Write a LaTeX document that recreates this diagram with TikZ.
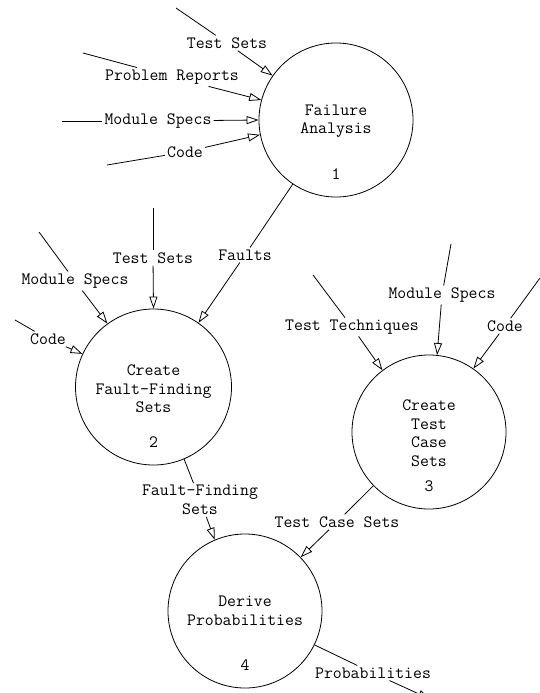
\documentclass[tikz,border=0pt]{standalone}
\usepackage{fontspec}
\usetikzlibrary{arrows.meta}
\begin{document}
\begin{tikzpicture}[x=1pt,y=-1pt,
  font=\ttfamily\fontsize{17.3}{18.5}\selectfont,
  proc/.style={circle,draw,line width=0.8pt,minimum size=154pt,inner sep=0pt},
  flow/.style={line width=0.8pt},
  arr/.style={flow,-{Triangle[open,length=12pt,width=8pt]}},
  lbl/.style={inner sep=2pt,align=center}]
\useasboundingbox[fill=white] (0,0) rectangle (540,693);

% processes
\node[proc] (c1) at (336,120) {};
\node[proc,minimum size=156pt] (c2) at (153.5,387) {};
\node[proc] (c3) at (429,432) {};
\node[proc] (c4) at (245,611) {};

\node[lbl] (t1) at (336,121) {Failure\\Analysis};
\node[lbl] (n1) at (336,174) {1};
\node[lbl] (t2) at (153.5,389) {Create\\Fault-Finding\\Sets};
\node[lbl] (n2) at (153.5,442) {2};
\node[lbl] (t3) at (429,433) {Create\\Test\\Case\\Sets};
\node[lbl] (n3) at (429,486) {3};
\node[lbl] (t4) at (245,611) {Derive\\Probabilities};
\node[lbl] (n4) at (245,665) {4};

% free ends
\coordinate (s1) at (176,8);
\coordinate (s2) at (83,53);
\coordinate (s3) at (62,121);
\coordinate (s4) at (107,165);
\coordinate (s6) at (39,232);
\coordinate (s7) at (153,208);
\coordinate (s8) at (15,320);
\coordinate (s9) at (313,275);
\coordinate (s10) at (451,244);
\coordinate (s11) at (540,278);
\coordinate (e14) at (430,699);

% labels
\node[lbl] (l1) at (227,43) {Test Sets};
\node[lbl] (l2) at (172,77) {Problem Reports};
\node[lbl] (l3) at (158,121) {Module Specs};
\node[lbl] (l4) at (185,152) {Code};
\node[lbl] (l5) at (245,255) {Faults};
\node[lbl] (l6) at (75,281) {Module Specs};
\node[lbl] (l7) at (153,258) {Test Sets};
\node[lbl] (l8) at (48,339) {Code};
\node[lbl] (l9) at (352,327) {Test Techniques};
\node[lbl] (l10) at (442,295) {Module Specs};
\node[lbl] (l11) at (505,326) {Code};
\node[lbl] (l12) at (200,500) {Fault-Finding\\Sets};
\node[lbl] (l13) at (337,522) {Test Case Sets};
\node[lbl] (l14) at (373,673) {Probabilities};

% flows into 1
\draw[flow] (s1) -- (l1); \draw[arr] (l1) -- (c1.145);
\draw[flow] (s2) -- (l2); \draw[arr] (l2) -- (c1.165);
\draw[flow] (s3) -- (l3); \draw[arr] (l3) -- (c1.180);
\draw[flow] (s4) -- (l4); \draw[arr] (l4) -- (c1.191);
% 1 -> 2
\draw[flow] (c1.236) -- (l5); \draw[arr] (l5) -- (c2.55);
% flows into 2
\draw[flow] (s6) -- (l6); \draw[arr] (l6) -- (c2.126);
\draw[flow] (s7) -- (l7); \draw[arr] (l7) -- (c2.90);
\draw[flow] (s8) -- (l8); \draw[arr] (l8) -- (c2.155);
% flows into 3
\draw[flow] (s9) -- (l9); \draw[arr] (l9) -- (c3.127);
\draw[flow] (s10) -- (l10); \draw[arr] (l10) -- (c3.84);
\draw[flow] (s11) -- (l11); \draw[arr] (l11) -- (c3.55);
% into 4
\draw[flow] (c2.293) -- (l12); \draw[arr] (l12) -- (c4.113);
\draw[flow] (c3.224) -- (l13); \draw[arr] (l13) -- (c4.44);
% out of 4
\draw[flow] (c4.-26) -- (l14); \draw[arr] (l14) -- (e14);
\end{tikzpicture}
\end{document}
